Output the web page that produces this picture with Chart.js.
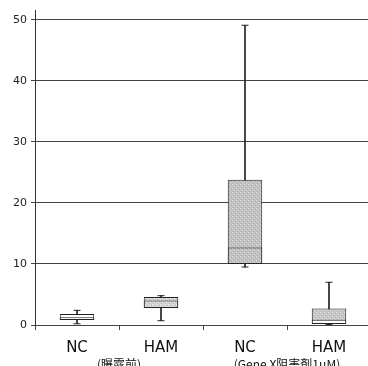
<!DOCTYPE html>
<html>
<head>
<meta charset="utf-8">
<script src="https://cdn.jsdelivr.net/npm/chart.js@4/dist/chart.umd.min.js"></script>
<style>
html,body{margin:0;padding:0;background:#fff;overflow:hidden;}
#wrap{width:376px;height:366px;}
</style>
</head>
<body>
<div id="wrap"><canvas id="c" width="376" height="366"></canvas></div>
<script>
const categories = ['NC', 'HAM', 'NC', 'HAM'];
const groups = ['(曝露前)', '(Gene X阻害剤1μM)'];
const minVals = [0.2, 0.7, 9.5, 0.1];
const q1Vals = [0.8, 2.8, 10.0, 0.15];
const medianVals = [1.25, 4.0, 12.7, 0.85];
const q3Vals = [1.8, 4.6, 23.8, 2.7];
const maxVals = [2.4, 4.8, 49.1, 7.0];
const yTicks = [0, 10, 20, 30, 40, 50];

const lowerFill = ['#ffffff', '#d4d4d4', '#c2c2c2', '#ffffff'];
const upperFill = ['#ffffff', '#d4d4d4', '#c2c2c2', '#c8c8c8'];

function stipple(base) {
  const p = document.createElement('canvas');
  p.width = 4; p.height = 4;
  const g = p.getContext('2d');
  g.fillStyle = base; g.fillRect(0, 0, 4, 4);
  g.fillStyle = 'rgba(255,255,255,0.45)';
  g.fillRect(0, 0, 1, 1); g.fillRect(2, 2, 1, 1);
  g.fillStyle = 'rgba(90,90,90,0.25)';
  g.fillRect(3, 1, 1, 1); g.fillRect(1, 3, 1, 1);
  return g.createPattern(p, 'repeat');
}
const ctx = document.getElementById('c').getContext('2d');
const lowerBg = lowerFill.map(c => c === '#ffffff' ? c : stipple(c));
const upperBg = upperFill.map(c => c === '#ffffff' ? c : stipple(c));

new Chart(ctx, {
  data: {
    labels: categories,
    datasets: [
      {
        type: 'bar', order: 4, grouped: false,
        data: minVals.map((v, i) => [v, maxVals[i]]),
        backgroundColor: '#222', borderWidth: 0,
        barThickness: 1, xAxisID: 'x'
      },
      {
        type: 'bar', order: 3, grouped: false,
        data: q1Vals.map((v, i) => [v, q3Vals[i]]),
        backgroundColor: upperBg, borderColor: '#222', borderWidth: 1,
        borderSkipped: false,
        barPercentage: 0.41, categoryPercentage: 1, xAxisID: 'x'
      },
      {
        type: 'bar', order: 2, grouped: false,
        data: q1Vals.map((v, i) => [v, medianVals[i]]),
        backgroundColor: lowerBg, borderColor: '#222', borderWidth: 1,
        borderSkipped: false,
        barPercentage: 0.41, categoryPercentage: 1, xAxisID: 'x'
      },
      {
        type: 'line', order: 1, showLine: false,
        data: maxVals, pointStyle: 'line', pointRadius: 3.5,
        pointBorderColor: '#222', pointBorderWidth: 1, xAxisID: 'x'
      },
      {
        type: 'line', order: 1, showLine: false,
        data: minVals, pointStyle: 'line', pointRadius: 3.5,
        pointBorderColor: '#222', pointBorderWidth: 1, xAxisID: 'x'
      }
    ]
  },
  options: {
    responsive: false,
    animation: false,
    layout: { padding: { top: 8, right: 0, left: 0, bottom: 0 } },
    plugins: { legend: { display: false }, tooltip: { enabled: false } },
    scales: {
      x: {
        type: 'category',
        position: 'bottom',
        weight: 0,
        offset: true,
        grid: { display: true, drawOnChartArea: false, offset: true, tickLength: 5, color: '#444' },
        border: { display: false },
        ticks: { color: '#111', padding: 9, font: { family: 'DejaVu Sans', size: 15 }, maxRotation: 0, autoSkip: false },
        afterFit: s => { s.height = 27; }
      },
      g: {
        type: 'category',
        labels: groups,
        position: 'bottom',
        weight: 1,
        offset: true,
        grid: { display: false },
        border: { display: false },
        ticks: { color: '#111', padding: -3, font: { family: 'Noto Sans CJK JP', size: 12 }, maxRotation: 0, autoSkip: false },
        afterFit: s => { s.height = 14; }
      },
      y: {
        min: 0, max: 51.5,
        afterBuildTicks: s => { s.ticks = yTicks.map(v => ({ value: v })); },
        grid: { color: '#444', lineWidth: 1, tickLength: 4 },
        border: { color: '#333', width: 1 },
        ticks: { color: '#222', padding: 4, font: { family: 'DejaVu Sans', size: 11 } },
        afterFit: s => { s.width = 35; }
      }
    }
  }
});
</script>
</body>
</html>
